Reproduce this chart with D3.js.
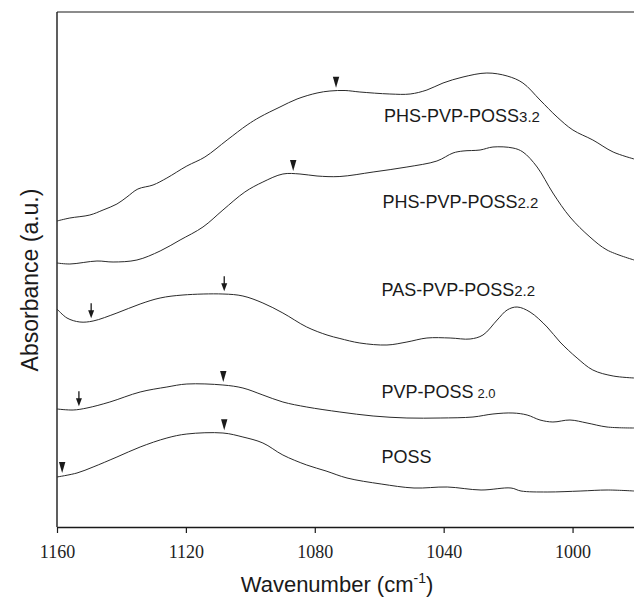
<!DOCTYPE html>
<html><head><meta charset="utf-8">
<script src="https://cdn.jsdelivr.net/npm/d3@7/dist/d3.min.js"></script>
<style>body{margin:0;background:#fff}svg{display:block}
.tick text{font-family:"Liberation Serif","DejaVu Serif","Times New Roman",serif !important;}</style>
</head><body><svg id="chart" width="634" height="597"></svg>
<script>
// x ticks
const xTicks = [1160, 1120, 1080, 1040, 1000];
// series names (main text + subscript)
const seriesNames = ["PHS-PVP-POSS", "PHS-PVP-POSS", "PAS-PVP-POSS", "PVP-POSS", "POSS"];
const seriesSubs = ["3.2", "2.2", "2.2", "2.0", ""];
// wavenumber / absorbance (a.u., offset) for each trace
const wn1 = [1160,1156,1149.8,1145.7,1141.4,1138.3,1134.9,1130.2,1125.9,1119.7,1114.1,1107.2,1101,1097,1090.8,1085.5,1079.3,1075.3,1070.6,1066,1056.7,1050.4,1045.2,1040.2,1034,1026.6,1020.3,1015.4,1010.1,1004.8,999.9,993.7,987.4,980.9];
const ab1 = [3.06,3.09,3.12,3.17,3.23,3.30,3.38,3.42,3.49,3.61,3.70,3.87,4.02,4.10,4.20,4.28,4.34,4.36,4.365,4.35,4.33,4.33,4.37,4.44,4.50,4.54,4.51,4.44,4.27,4.10,3.97,3.87,3.75,3.68];
const wn2 = [1160,1156,1147.6,1142.6,1135.2,1128,1121.8,1114.7,1108.5,1101.7,1096.1,1089.9,1084.6,1079.3,1072.2,1061.9,1051.4,1042.1,1037.1,1034,1028.7,1024.7,1018.5,1015.4,1011,1006.1,1000.8,994.6,989.3,980.9];
const ab2 = [2.64,2.63,2.66,2.65,2.67,2.76,2.87,3.00,3.17,3.35,3.45,3.53,3.53,3.51,3.505,3.55,3.60,3.66,3.74,3.76,3.77,3.80,3.79,3.75,3.60,3.34,3.10,2.90,2.77,2.67];
const wn3 = [1160,1156.9,1152.9,1148.8,1141.4,1134.2,1128,1120.9,1108.5,1102.3,1096.1,1089.9,1082.5,1076.2,1072.2,1066,1057.6,1051.4,1045.2,1038,1031.8,1027.8,1023.4,1020.3,1017.2,1013.2,1007.9,1003.9,998.6,993.7,987.4,980.9];
const ab3 = [2.18,2.09,2.05,2.06,2.14,2.23,2.29,2.32,2.33,2.31,2.24,2.14,2.00,1.92,1.885,1.84,1.82,1.85,1.89,1.89,1.88,1.92,2.07,2.17,2.20,2.15,2.00,1.85,1.69,1.57,1.51,1.49];
const wn4 = [1160,1155,1150.7,1143.6,1134.2,1125.9,1119.7,1108.5,1102.3,1096.1,1089.9,1082.5,1072.2,1061.9,1051.4,1041.1,1030.9,1024.7,1018.5,1014.1,1010.1,1006.1,1000.8,995.5,989.3,980.9];
const ab4 = [1.18,1.17,1.19,1.25,1.35,1.40,1.43,1.42,1.39,1.32,1.25,1.20,1.15,1.11,1.09,1.09,1.10,1.13,1.14,1.12,1.07,1.05,1.07,1.04,1.00,0.99];
const wn5 = [1160,1153.8,1148.8,1141.4,1134.2,1125.9,1119.7,1108.5,1102.3,1096.1,1089.9,1082.5,1076.5,1070,1059.4,1049.2,1038.9,1028.4,1019.1,1016,1007.9,997.4,989.3,980.9];
const ab5 = [0.50,0.54,0.60,0.70,0.80,0.89,0.93,0.94,0.90,0.84,0.72,0.62,0.56,0.49,0.43,0.39,0.40,0.37,0.39,0.36,0.35,0.36,0.37,0.36];
// marked band positions: [series index, wavenumber, style]
const markSeries = [0, 1, 2, 2, 3, 3, 4, 4];
const markWn = [1073.4, 1086.7, 1149.4, 1108.1, 1153.2, 1108.4, 1158.4, 1108.1];
const markStem = [false, false, true, true, true, false, false, false];
// label anchor values (wavenumber, a.u.)
const labelWn = [1058.5, 1059, 1059.3, 1059.3, 1059.3];
const labelAb = [4.05, 3.19, 2.31, 1.29, 0.64];

const series = [[wn1,ab1],[wn2,ab2],[wn3,ab3],[wn4,ab4],[wn5,ab5]];

const svg = d3.select("#chart");
const L = 57, T = 12, B = 527, R = 637;
const x = d3.scaleLinear().domain([1160, 980]).range([L, R]);
const y = d3.scaleLinear().domain([0, 5.15]).range([B, T]);
const ink = "#1a1a1a";

// frame: left and top lines
svg.append("line").attr("x1", L).attr("x2", L).attr("y1", T).attr("y2", B)
  .attr("stroke", ink).attr("stroke-width", 1.4);
svg.append("line").attr("x1", L).attr("x2", R).attr("y1", T).attr("y2", T)
  .attr("stroke", ink).attr("stroke-width", 1.2);

// bottom axis
const xAxis = svg.append("g").attr("transform", `translate(0,${B})`)
  .call(d3.axisBottom(x).tickValues(xTicks).tickSize(6).tickSizeOuter(0).tickPadding(12).tickFormat(d3.format("d")));
xAxis.attr("font-family", null);
xAxis.select(".domain").attr("stroke", ink).attr("stroke-width", 1.4);
xAxis.selectAll(".tick line").attr("stroke", ink).attr("stroke-width", 1.2);
xAxis.selectAll(".tick text")
  .attr("font-size", 18).attr("fill", "#222").attr("dy", "0.71em");

// curves
const line = d3.line().x(d => x(d[0])).y(d => y(d[1])).curve(d3.curveCatmullRom.alpha(0.5));
series.forEach(([w, a]) => {
  svg.append("path").datum(w.map((v, i) => [v, a[i]]))
    .attr("d", line).attr("fill", "none").attr("stroke", "#2a2a2a").attr("stroke-width", 1);
});

// markers
function valueAt(si, wv) {
  const [w, a] = series[si];
  for (let i = 0; i < w.length - 1; i++) {
    if (wv <= w[i] && wv >= w[i+1]) {
      const t = (w[i] - wv) / (w[i] - w[i+1]);
      return a[i] + t * (a[i+1] - a[i]);
    }
  }
  return a[0];
}
markSeries.forEach((si, k) => {
  const cx = x(markWn[k]);
  const tip = y(valueAt(si, markWn[k])) - 3;
  if (markStem[k]) {
    svg.append("line").attr("x1", cx).attr("x2", cx).attr("y1", tip - 15).attr("y2", tip - 7)
      .attr("stroke", ink).attr("stroke-width", 1.3);
    svg.append("path").attr("d", `M${cx-3},${tip-8}L${cx+3},${tip-8}L${cx},${tip}Z`).attr("fill", ink);
  } else {
    svg.append("path").attr("d", `M${cx-3.2},${tip-11}L${cx+3.2},${tip-11}L${cx},${tip}Z`).attr("fill", ink);
  }
});

// series labels
seriesNames.forEach((n, i) => {
  const t = svg.append("text").attr("x", x(labelWn[i])).attr("y", y(labelAb[i]))
    .attr("font-family", "'Liberation Sans',Arial,sans-serif").attr("font-size", 18).attr("fill", ink);
  t.append("tspan").text(n);
  if (seriesSubs[i]) t.append("tspan").attr("font-size", i === 3 ? 13 : 15)
    .attr("dx", i === 3 ? 4 : 0).text(seriesSubs[i]);
});

// axis titles
const xt = svg.append("text").attr("x", 337).attr("y", 592).attr("text-anchor", "middle")
  .attr("font-family", "'Liberation Sans',Arial,sans-serif").attr("font-size", 22).attr("fill", ink);
xt.append("tspan").text("Wavenumber (cm");
xt.append("tspan").attr("font-size", 14).attr("dy", -9).text("-1");
xt.append("tspan").attr("dy", 9).text(")");

svg.append("text").attr("transform", "translate(38,280) rotate(-90)").attr("text-anchor", "middle")
  .attr("font-family", "'Liberation Sans',Arial,sans-serif").attr("font-size", 23).attr("fill", ink)
  .text("Absorbance (a.u.)");
</script>
</body></html>
